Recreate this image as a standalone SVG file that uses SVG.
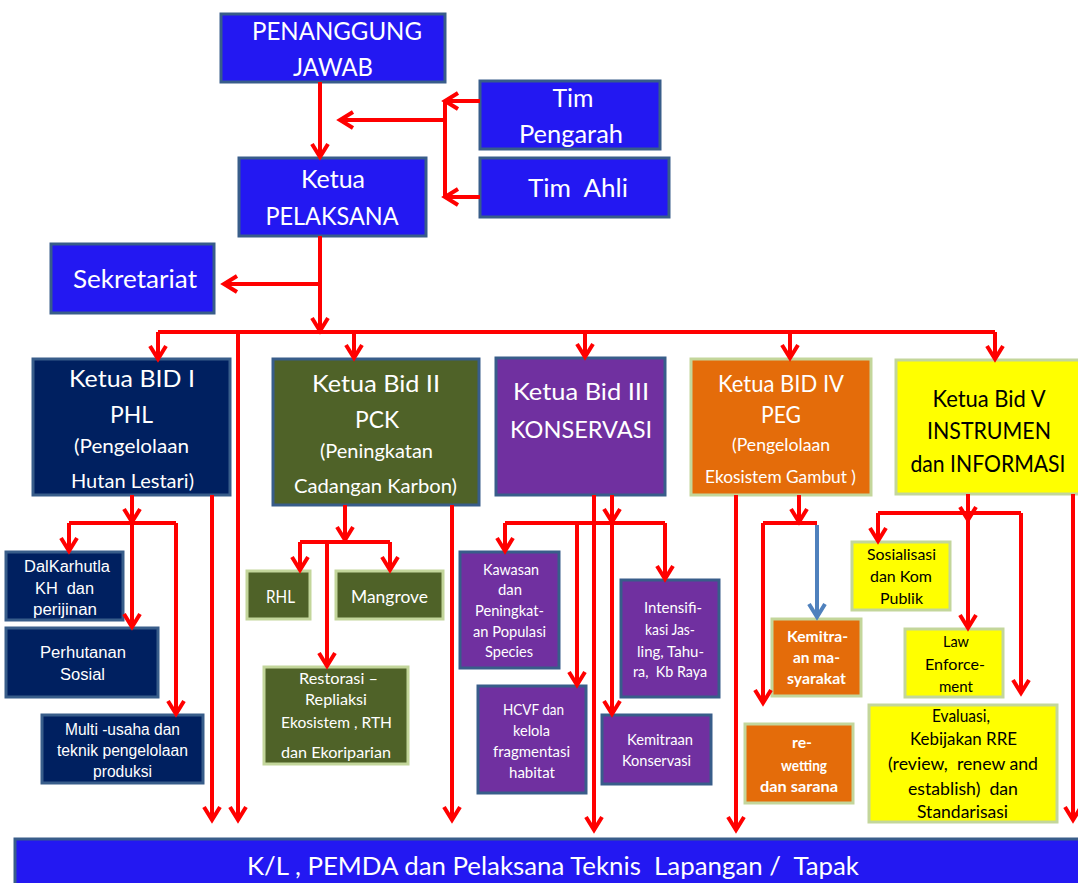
<svg xmlns="http://www.w3.org/2000/svg" width="1078" height="883" viewBox="0 0 1078 883">
<style>
.bl{fill:#2318f2;stroke:#385d8a;stroke-width:3}
.nv{fill:#002060;stroke:#385d8a;stroke-width:3}
.ol{fill:#4f6228;stroke:#385d8a;stroke-width:3}
.olg{fill:#4f6228;stroke:#c3d69b;stroke-width:3}
.pu{fill:#7030a0;stroke:#385d8a;stroke-width:3}
.or{fill:#e46c0a;stroke:#c3d69b;stroke-width:3}
.ye{fill:#ffff00;stroke:#c3d69b;stroke-width:3}
text{font-family:Lato,"Noto Sans",sans-serif;text-anchor:middle;fill:#fff}
.ar{font-family:"Liberation Sans",Arial,sans-serif}
.k{fill:#000}
.bd{font-weight:bold}
.c{fill:none;stroke:#ff0000;stroke-width:4;marker-end:url(#ah)}
.cb{fill:none;stroke:#4f81bd;stroke-width:4;marker-end:url(#ahb)}
.l{fill:none;stroke:#ff0000;stroke-width:4}
</style>
<defs>
<marker id="ah" markerUnits="userSpaceOnUse" markerWidth="20" markerHeight="20" refX="13" refY="8" orient="auto" overflow="visible"><path d="M0,0 L13,8 L0,16" fill="none" stroke="#ff0000" stroke-width="4"/></marker>
<marker id="ahb" markerUnits="userSpaceOnUse" markerWidth="20" markerHeight="20" refX="13" refY="8" orient="auto" overflow="visible"><path d="M0,0 L13,8 L0,16" fill="none" stroke="#4f81bd" stroke-width="4"/></marker>
</defs>
<rect width="1078" height="883" fill="#fff"/>

<g id="penanggung-jawab"><rect class="bl" x="221" y="14" width="224" height="68"/>
<text x="337" y="40" font-size="25" textLength="170" lengthAdjust="spacingAndGlyphs">PENANGGUNG</text>
<text x="333" y="76" font-size="25" textLength="80" lengthAdjust="spacingAndGlyphs">JAWAB</text></g>

<g id="tim-pengarah"><rect class="bl" x="480" y="81" width="180" height="68"/>
<text x="573" y="107" font-size="25" textLength="41" lengthAdjust="spacingAndGlyphs">Tim</text>
<text x="571" y="143" font-size="25" textLength="104" lengthAdjust="spacingAndGlyphs">Pengarah</text></g>

<g id="tim-ahli"><rect class="bl" x="480" y="158" width="189" height="59"/>
<text xml:space="preserve" x="578" y="197" font-size="25" textLength="100" lengthAdjust="spacingAndGlyphs">Tim  Ahli</text></g>

<g id="ketua-pelaksana"><rect class="bl" x="239" y="158" width="187" height="78"/>
<text x="333" y="188" font-size="25" textLength="64" lengthAdjust="spacingAndGlyphs">Ketua</text>
<text x="332" y="225" font-size="25" textLength="133" lengthAdjust="spacingAndGlyphs">PELAKSANA</text></g>

<g id="sekretariat"><rect class="bl" x="51" y="244" width="163" height="69"/>
<text x="135" y="288" font-size="25" textLength="124" lengthAdjust="spacingAndGlyphs">Sekretariat</text></g>

<g id="bid-1"><rect class="nv" x="33" y="359" width="197" height="136"/>
<text x="132" y="387" font-size="24" textLength="126" lengthAdjust="spacingAndGlyphs">Ketua BID I</text>
<text x="131.5" y="423" font-size="24" textLength="43" lengthAdjust="spacingAndGlyphs">PHL</text>
<text x="131.5" y="453" font-size="20" textLength="115" lengthAdjust="spacingAndGlyphs">(Pengelolaan</text>
<text x="132.5" y="488" font-size="20" textLength="123" lengthAdjust="spacingAndGlyphs">Hutan Lestari)</text></g>

<g id="bid-2"><rect class="ol" x="273" y="359" width="206" height="146"/>
<text x="376" y="392" font-size="24" textLength="128" lengthAdjust="spacingAndGlyphs">Ketua Bid II</text>
<text x="377" y="428" font-size="24" textLength="44" lengthAdjust="spacingAndGlyphs">PCK</text>
<text x="376.5" y="458" font-size="20" textLength="113" lengthAdjust="spacingAndGlyphs">(Peningkatan</text>
<text x="375.5" y="493" font-size="20" textLength="163" lengthAdjust="spacingAndGlyphs">Cadangan Karbon)</text></g>

<g id="bid-3"><rect class="pu" x="496" y="358" width="169" height="137"/>
<text x="581" y="400" font-size="24" textLength="136" lengthAdjust="spacingAndGlyphs">Ketua Bid III</text>
<text x="581" y="438" font-size="24" textLength="142" lengthAdjust="spacingAndGlyphs">KONSERVASI</text></g>

<g id="bid-4"><rect class="or" x="691" y="359" width="180" height="136"/>
<text x="781" y="392" font-size="23" textLength="126" lengthAdjust="spacingAndGlyphs">Ketua BID IV</text>
<text x="781" y="423" font-size="23" textLength="40" lengthAdjust="spacingAndGlyphs">PEG</text>
<text x="781" y="451" font-size="17.5" textLength="98" lengthAdjust="spacingAndGlyphs">(Pengelolaan</text>
<text x="780.5" y="483" font-size="17.5" textLength="151" lengthAdjust="spacingAndGlyphs">Ekosistem Gambut )</text></g>

<g id="bid-5"><rect class="ye" x="896" y="360" width="186" height="134"/>
<text class="k" x="989" y="407" font-size="23" textLength="113" lengthAdjust="spacingAndGlyphs">Ketua Bid V</text>
<text class="k" x="989" y="439" font-size="23" textLength="124" lengthAdjust="spacingAndGlyphs">INSTRUMEN</text>
<text class="k" x="988" y="472" font-size="23" textLength="155" lengthAdjust="spacingAndGlyphs">dan INFORMASI</text></g>

<g id="dalkarhutla"><rect class="nv" x="6" y="552" width="117" height="68"/>
<text class="ar" x="67" y="572" font-size="16" textLength="86" lengthAdjust="spacingAndGlyphs">DalKarhutla</text>
<text class="ar" xml:space="preserve" x="64.5" y="594" font-size="16" textLength="59" lengthAdjust="spacingAndGlyphs">KH  dan</text>
<text class="ar" x="65" y="615" font-size="16" textLength="64" lengthAdjust="spacingAndGlyphs">perijinan</text></g>

<g id="perhutanan-sosial"><rect class="nv" x="6" y="628" width="152" height="69"/>
<text class="ar" x="83" y="658" font-size="16" textLength="86" lengthAdjust="spacingAndGlyphs">Perhutanan</text>
<text class="ar" x="82.5" y="680" font-size="16" textLength="45" lengthAdjust="spacingAndGlyphs">Sosial</text></g>

<g id="multi-usaha"><rect class="nv" x="42" y="715" width="161" height="68"/>
<text class="ar" x="122.5" y="735" font-size="16" textLength="115" lengthAdjust="spacingAndGlyphs">Multi -usaha dan</text>
<text class="ar" x="122.5" y="756" font-size="16" textLength="131" lengthAdjust="spacingAndGlyphs">teknik pengelolaan</text>
<text class="ar" x="122.5" y="777" font-size="16" textLength="59" lengthAdjust="spacingAndGlyphs">produksi</text></g>

<g id="rhl"><rect class="olg" x="247" y="571" width="63" height="48"/>
<text x="280.5" y="603" font-size="17.5" textLength="29" lengthAdjust="spacingAndGlyphs">RHL</text></g>

<g id="mangrove"><rect class="olg" x="336" y="571" width="107" height="48"/>
<text x="389.5" y="603" font-size="17.5" textLength="77" lengthAdjust="spacingAndGlyphs">Mangrove</text></g>

<g id="restorasi"><rect class="olg" x="264" y="667" width="144" height="97"/>
<text x="338.5" y="684" font-size="16" textLength="79" lengthAdjust="spacingAndGlyphs">Restorasi –</text>
<text x="336" y="705" font-size="16" textLength="62" lengthAdjust="spacingAndGlyphs">Repliaksi</text>
<text x="336.5" y="728" font-size="16" textLength="111" lengthAdjust="spacingAndGlyphs">Ekosistem , RTH</text>
<text x="336" y="758" font-size="16" textLength="110" lengthAdjust="spacingAndGlyphs">dan Ekoriparian</text></g>

<g id="kawasan"><rect class="pu" x="460" y="552" width="99" height="116"/>
<text x="511" y="575" font-size="15" textLength="56" lengthAdjust="spacingAndGlyphs">Kawasan</text>
<text x="510" y="595" font-size="15" textLength="24" lengthAdjust="spacingAndGlyphs">dan</text>
<text x="509.5" y="616" font-size="15" textLength="69" lengthAdjust="spacingAndGlyphs">Peningkat-</text>
<text x="509.5" y="637" font-size="15" textLength="73" lengthAdjust="spacingAndGlyphs">an Populasi</text>
<text x="509" y="657" font-size="15" textLength="48" lengthAdjust="spacingAndGlyphs">Species</text></g>

<g id="intensifikasi"><rect class="pu" x="621" y="580" width="98" height="117"/>
<text x="673" y="613" font-size="15" textLength="58" lengthAdjust="spacingAndGlyphs">Intensifi-</text>
<text x="670" y="635" font-size="15" textLength="50" lengthAdjust="spacingAndGlyphs">kasi Jas-</text>
<text x="670.5" y="657" font-size="15" textLength="67" lengthAdjust="spacingAndGlyphs">ling, Tahu-</text>
<text xml:space="preserve" x="670" y="677" font-size="15" textLength="74" lengthAdjust="spacingAndGlyphs">ra,  Kb Raya</text></g>

<g id="hcvf"><rect class="pu" x="478" y="686" width="108" height="107"/>
<text x="533.5" y="715" font-size="15" textLength="61" lengthAdjust="spacingAndGlyphs">HCVF dan</text>
<text x="531.5" y="736" font-size="15" textLength="37" lengthAdjust="spacingAndGlyphs">kelola</text>
<text x="531.5" y="757" font-size="15" textLength="77" lengthAdjust="spacingAndGlyphs">fragmentasi</text>
<text x="532" y="778" font-size="15" textLength="46" lengthAdjust="spacingAndGlyphs">habitat</text></g>

<g id="kemitraan-konservasi"><rect class="pu" x="602" y="715" width="109" height="69"/>
<text x="660" y="745" font-size="15" textLength="66" lengthAdjust="spacingAndGlyphs">Kemitraan</text>
<text x="656.5" y="766" font-size="15" textLength="69" lengthAdjust="spacingAndGlyphs">Konservasi</text></g>

<g id="kemitraan-masyarakat"><rect class="or" x="772" y="619" width="89" height="77"/>
<text class="bd" x="817.5" y="642" font-size="14.5" textLength="61" lengthAdjust="spacingAndGlyphs">Kemitra-</text>
<text class="bd" x="816.5" y="663" font-size="14.5" textLength="47" lengthAdjust="spacingAndGlyphs">an ma-</text>
<text class="bd" x="816.5" y="684" font-size="14.5" textLength="59" lengthAdjust="spacingAndGlyphs">syarakat</text></g>

<g id="rewetting"><rect class="or" x="745" y="724" width="108" height="79"/>
<text class="bd" x="802" y="748" font-size="14.5" textLength="20" lengthAdjust="spacingAndGlyphs">re-</text>
<text class="bd" x="804" y="771" font-size="14.5" textLength="46" lengthAdjust="spacingAndGlyphs">wetting</text>
<text class="bd" x="799" y="792" font-size="14.5" textLength="78" lengthAdjust="spacingAndGlyphs">dan sarana</text></g>

<g id="sosialisasi"><rect class="ye" x="852" y="542" width="98" height="68"/>
<text class="k" x="901.5" y="560" font-size="16" textLength="69" lengthAdjust="spacingAndGlyphs">Sosialisasi</text>
<text class="k" x="901" y="582" font-size="16" textLength="62" lengthAdjust="spacingAndGlyphs">dan Kom</text>
<text class="k" x="901.5" y="604" font-size="16" textLength="43" lengthAdjust="spacingAndGlyphs">Publik</text></g>

<g id="law-enforcement"><rect class="ye" x="905" y="629" width="98" height="68"/>
<text class="k" x="956" y="647" font-size="16" textLength="26" lengthAdjust="spacingAndGlyphs">Law</text>
<text class="k" x="955" y="670" font-size="16" textLength="60" lengthAdjust="spacingAndGlyphs">Enforce-</text>
<text class="k" x="956" y="692" font-size="16" textLength="34" lengthAdjust="spacingAndGlyphs">ment</text></g>

<g id="evaluasi"><rect class="ye" x="869" y="705" width="188" height="117"/>
<text class="k" x="961" y="722" font-size="17" textLength="58" lengthAdjust="spacingAndGlyphs">Evaluasi,</text>
<text class="k" x="963.5" y="745" font-size="17" textLength="107" lengthAdjust="spacingAndGlyphs">Kebijakan RRE</text>
<text class="k" xml:space="preserve" x="963" y="770" font-size="17" textLength="150" lengthAdjust="spacingAndGlyphs">(review,  renew and</text>
<text class="k" xml:space="preserve" x="963" y="795" font-size="17" textLength="110" lengthAdjust="spacingAndGlyphs">establish)  dan</text>
<text class="k" x="962.5" y="818" font-size="17" textLength="91" lengthAdjust="spacingAndGlyphs">Standarisasi</text></g>

<g id="pelaksana-lapangan"><rect class="bl" x="15" y="839" width="1075" height="50"/>
<text xml:space="preserve" x="553" y="875" font-size="25" textLength="612" lengthAdjust="spacingAndGlyphs">K/L , PEMDA dan Pelaksana Teknis  Lapangan /  Tapak</text></g>

<g id="connectors">
<path class="c" d="M320,82 V157"/>
<path class="c" d="M480,101 H445"/>
<path class="l" d="M445,101 V197"/>
<path class="c" d="M480,197 H445"/>
<path class="c" d="M445,120 H340"/>
<path class="c" d="M320,236 V331"/>
<path class="c" d="M320,284 H224"/>
<path class="l" d="M158,332 H995"/>
<path class="c" d="M158,332 V359"/>
<path class="c" d="M354,332 V358"/>
<path class="c" d="M585,332 V357"/>
<path class="c" d="M790,332 V358"/>
<path class="c" d="M995,332 V359"/>
<path class="c" d="M238,332 V820"/>
<path class="c" d="M212,495 V820"/>
<path class="c" d="M132,495 V522"/>
<path class="l" d="M69,523 H176"/>
<path class="c" d="M69,523 V551"/>
<path class="c" d="M132,523 V627"/>
<path class="c" d="M176,523 V714"/>
<path class="c" d="M345,505 V540"/>
<path class="l" d="M300,542 H390"/>
<path class="c" d="M300,542 V570"/>
<path class="c" d="M390,542 V570"/>
<path class="c" d="M327,542 V666"/>
<path class="c" d="M452,505 V820"/>
<path class="c" d="M594,495 V830"/>
<path class="c" d="M612,495 V522"/>
<path class="l" d="M505,523 H665"/>
<path class="c" d="M505,523 V551"/>
<path class="c" d="M665,523 V579"/>
<path class="c" d="M577,523 V685"/>
<path class="c" d="M612,523 V714"/>
<path class="c" d="M736,495 V830"/>
<path class="c" d="M799,495 V522"/>
<path class="l" d="M763,523 H817"/>
<path class="c" d="M763,523 V703"/>
<path class="cb" d="M817,525 V617"/>
<path class="c" d="M968,494 V520"/>
<path class="l" d="M878,513 H1021"/>
<path class="c" d="M878,513 V541"/>
<path class="c" d="M968,513 V628"/>
<path class="c" d="M1021,513 V693"/>
<path class="c" d="M1073,494 V820"/>
</g>
</svg>
